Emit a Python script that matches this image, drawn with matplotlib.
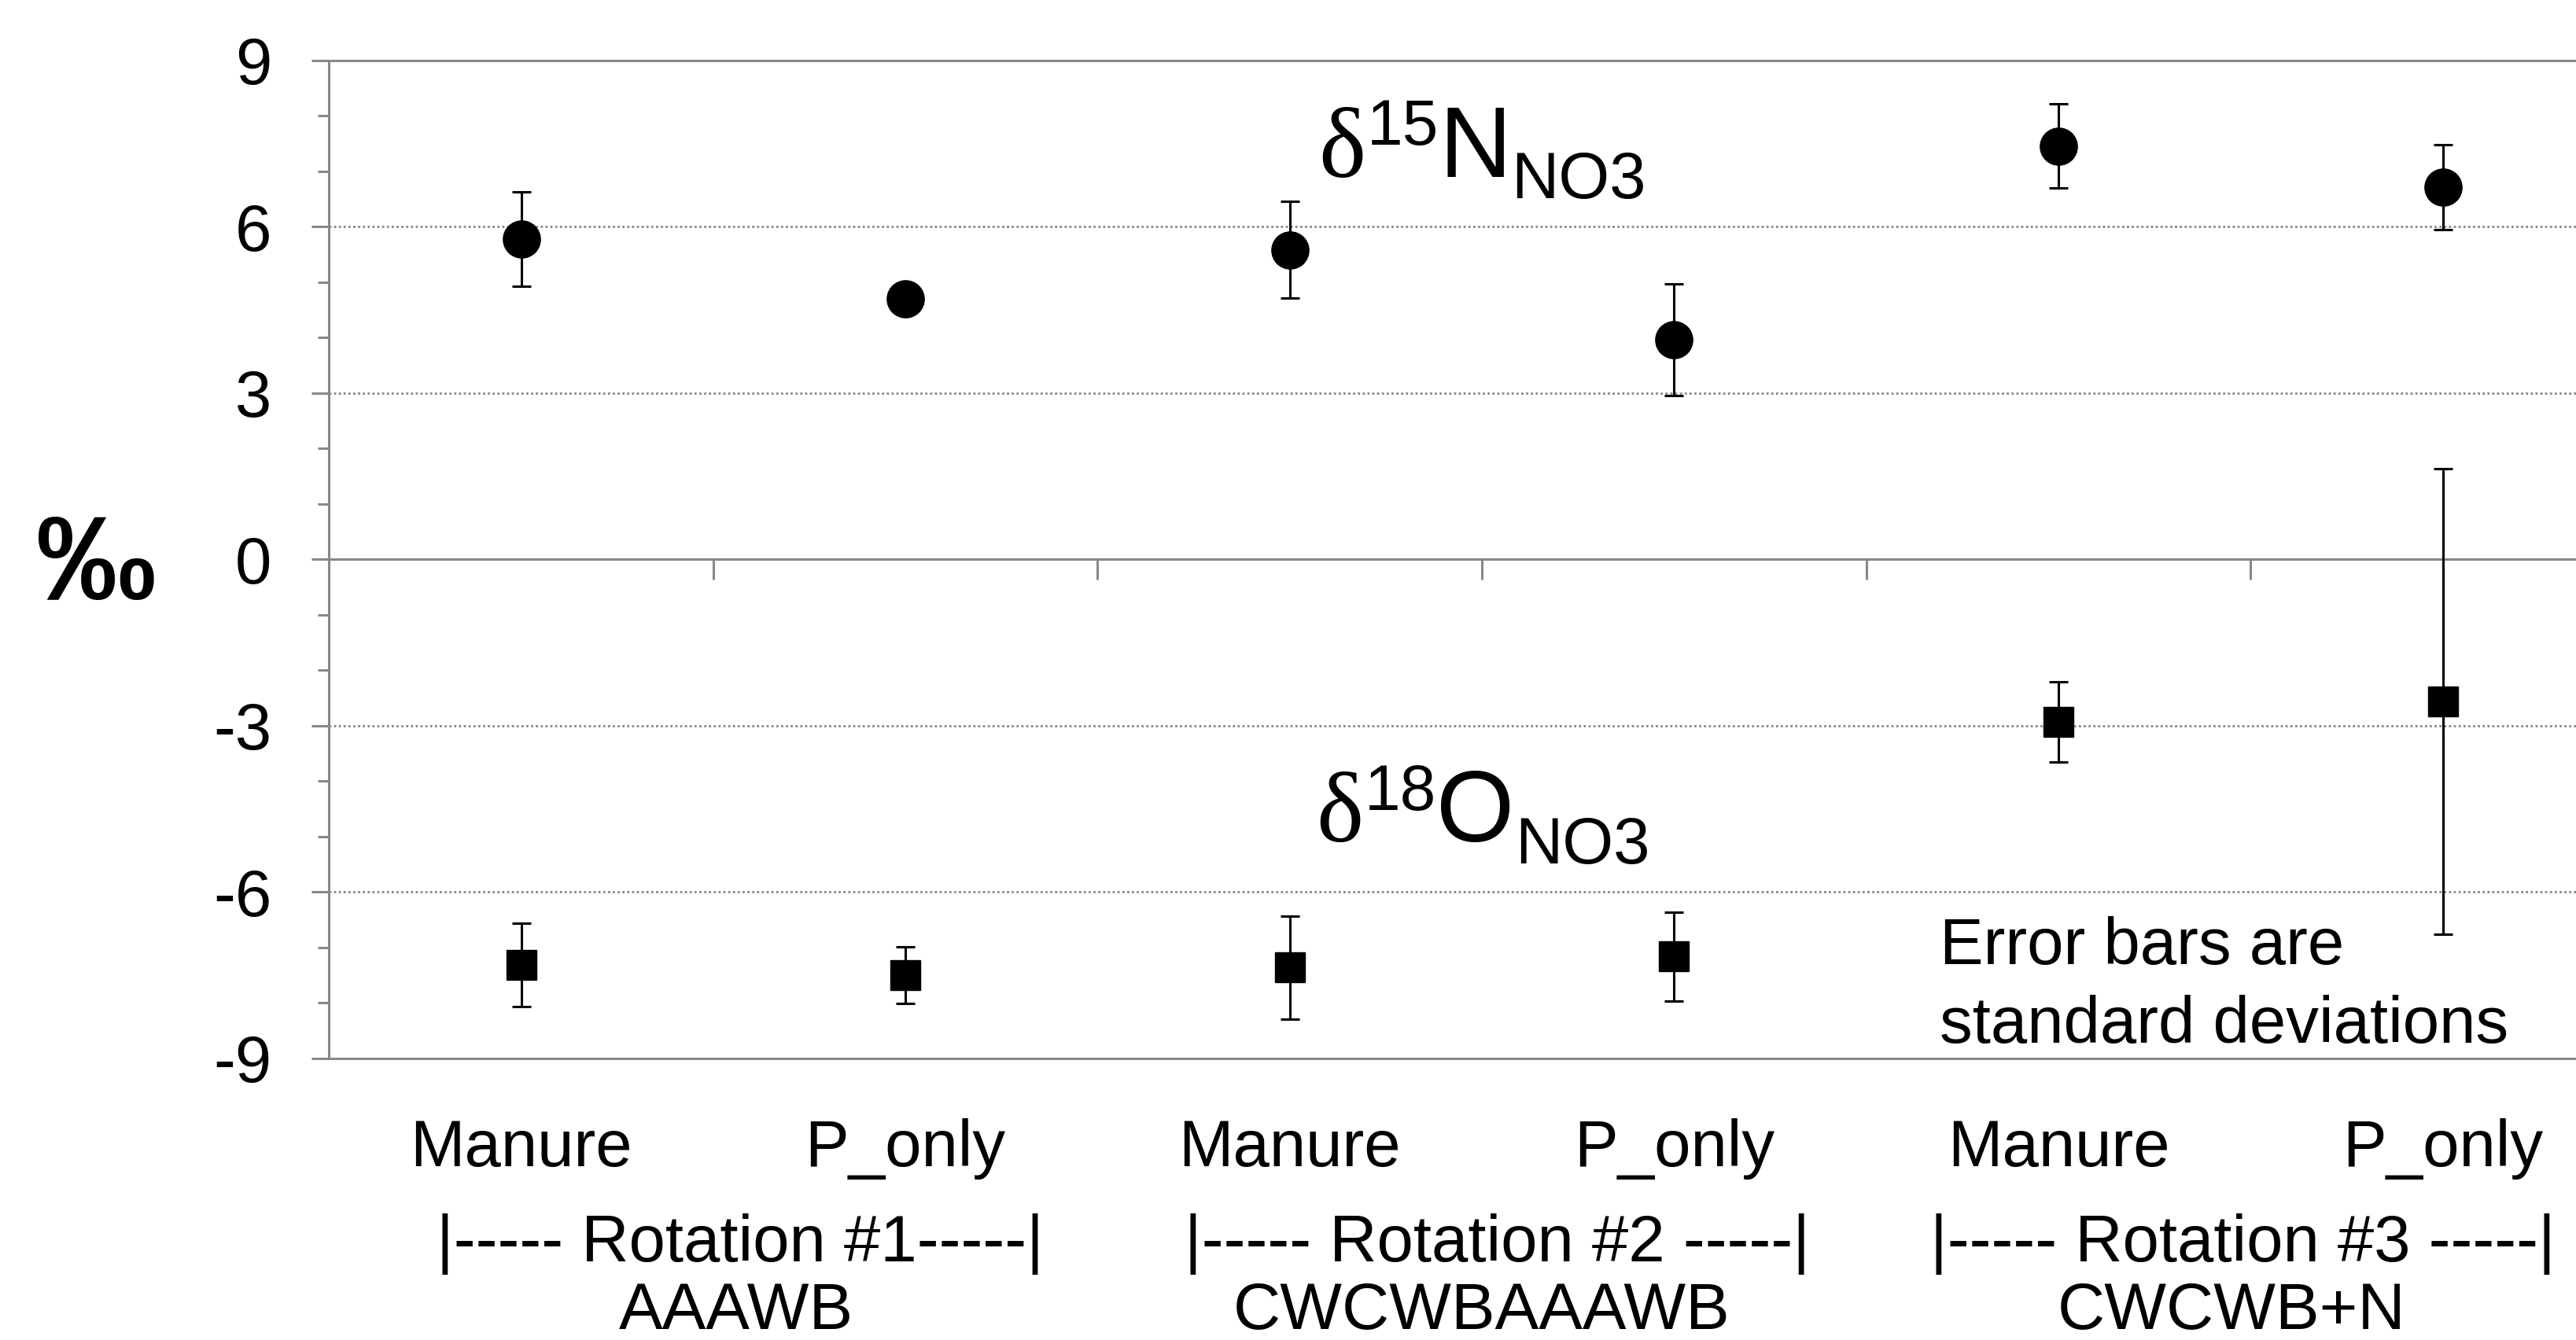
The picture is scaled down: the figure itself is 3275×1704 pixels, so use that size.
import matplotlib.pyplot as plt
from matplotlib.ticker import MultipleLocator

plt.rcParams['font.family'] = ['Liberation Sans', 'DejaVu Sans']

categories = ['Manure', 'P_only', 'Manure', 'P_only', 'Manure', 'P_only']
n15 = [5.78, 4.70, 5.58, 3.96, 7.45, 6.71]
n15_sd = [0.85, 0.0, 0.87, 1.01, 0.76, 0.77]
o18 = [-7.31, -7.50, -7.36, -7.16, -2.93, -2.56]
o18_sd = [0.75, 0.51, 0.93, 0.80, 0.72, 4.20]

rotations = ['|----- Rotation #1-----|', '|----- Rotation #2 -----|', '|----- Rotation #3 -----|']
sequences = ['AAAWB', 'CWCWBAAAWB', 'CWCWB+N']
rot_x = [0.57, 2.54, 4.48]
seq_x = [0.56, 2.50, 4.45]

gray = '#888888'

fig = plt.figure(figsize=(32.75, 17.04), dpi=100)
# the plot area runs past the right edge, as in the source
ax = fig.add_axes([0.1277, 0.2101, 0.8952, 0.745])
x = list(range(len(categories)))

ax.set_xlim(-0.5, len(categories) - 0.5)
ax.set_ylim(-9, 9)

ax.yaxis.set_major_locator(MultipleLocator(3))
ax.yaxis.set_minor_locator(MultipleLocator(1))
ax.grid(axis='y', which='major', color=gray, linestyle=(0, (1, 1.2)), linewidth=2, zorder=0)

for side in ['left', 'bottom', 'top']:
    ax.spines[side].set_color(gray)
    ax.spines[side].set_linewidth(2.2)
ax.spines['right'].set_visible(False)

ax.tick_params(axis='y', which='major', direction='out', length=15.6, width=2.2,
               color=gray, labelsize=60, pad=37)
ax.tick_params(axis='y', which='minor', direction='out', length=10, width=2.2, color=gray)
ax.set_yticklabels([f'{int(v)}' for v in ax.get_yticks()])

ax.set_xticks(x)
ax.set_xticklabels(categories)
ax.tick_params(axis='x', length=0, labelsize=60, pad=55)

# zero line with category separator ticks
ax.axhline(0, color=gray, lw=2.2, zorder=2)
seps = [i + 0.5 for i in range(len(categories))]
ax.plot(seps, [0] * len(seps), ls='none', marker=3, ms=19, mew=2.2, color=gray, zorder=2)

ax.errorbar(x, n15, yerr=n15_sd, fmt='o', ms=34, color='black', ecolor='black',
            elinewidth=2.2, capsize=8.6, capthick=2.2, zorder=3)
ax.errorbar(x, o18, yerr=o18_sd, fmt='s', ms=27, color='black', ecolor='black',
            elinewidth=2.2, capsize=8.6, capthick=2.2, zorder=3)


def iso_label(x0, y0, sup, elem):
    t1 = ax.text(x0, y0, 'δ', fontsize=92, family=['Liberation Serif', 'DejaVu Serif'],
                 ha='left', va='baseline')
    t2 = ax.annotate(sup, xy=(1, y0), xycoords=(t1, 'data'), xytext=(1, 29),
                     textcoords='offset points', fontsize=59, ha='left', va='baseline')
    t3 = ax.annotate(elem, xy=(1, y0), xycoords=(t2, 'data'), xytext=(0, 0),
                     textcoords='offset points', fontsize=92, ha='left', va='baseline')
    ax.annotate('NO3', xy=(1, y0), xycoords=(t3, 'data'), xytext=(0, -20),
                textcoords='offset points', fontsize=60, ha='left', va='baseline')


iso_label(2.075, 6.90, '15', 'N')
iso_label(2.069, -5.085, '18', 'O')

ax.text(3.69, -7.30, 'Error bars are', fontsize=60, ha='left', va='baseline')
ax.text(3.69, -8.72, 'standard deviations', fontsize=60, ha='left', va='baseline')

for rx, r in zip(rot_x, rotations):
    ax.annotate(r, xy=(rx, 0), xycoords=('data', 'axes fraction'), xytext=(0, -186),
                textcoords='offset points', ha='center', va='baseline', fontsize=60,
                annotation_clip=False)
for sx, s in zip(seq_x, sequences):
    ax.annotate(s, xy=(sx, 0), xycoords=('data', 'axes fraction'), xytext=(0, -248),
                textcoords='offset points', ha='center', va='baseline', fontsize=60,
                annotation_clip=False)

ax.set_ylabel('‰', rotation=0, fontsize=110, fontweight='bold', ha='center', va='center')
ax.yaxis.set_label_coords(-0.101, 0.49)

fig.savefig('out.png', dpi=100)
